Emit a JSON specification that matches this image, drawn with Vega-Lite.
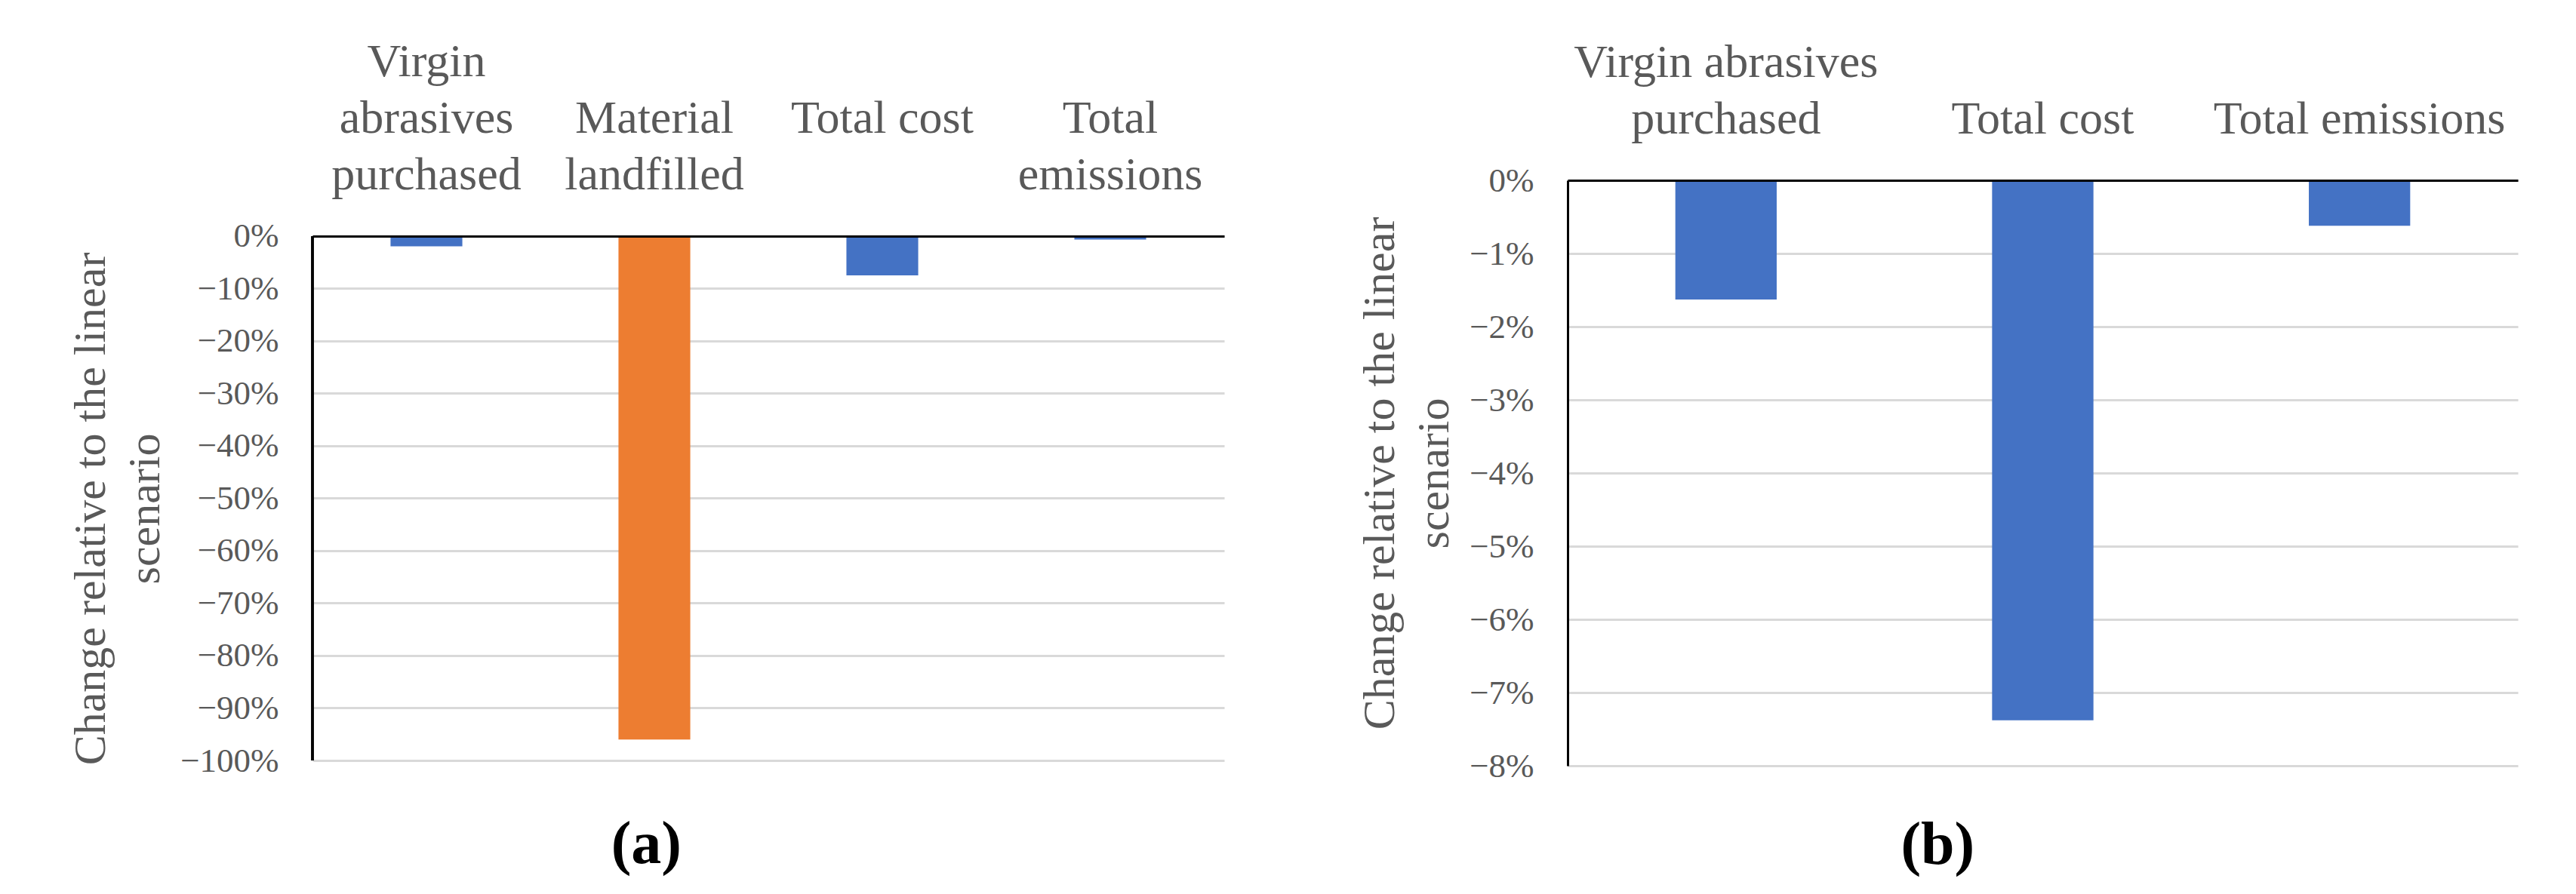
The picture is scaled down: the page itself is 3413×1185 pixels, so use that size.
{
  "$schema": "https://vega.github.io/schema/vega-lite/v6.json",
  "background": "white",
  "padding": {"left": 90, "top": 50, "right": 5, "bottom": 5},
  "datasets": {
    "a": [
      {"category": "Virgin abrasives purchased", "value": -0.0195},
      {"category": "Material landfilled", "value": -0.96},
      {"category": "Total cost", "value": -0.075},
      {"category": "Total emissions", "value": -0.0065}
    ],
    "b": [
      {"category": "Virgin abrasives purchased", "value": -0.0163},
      {"category": "Total cost", "value": -0.0738},
      {"category": "Total emissions", "value": -0.0062}
    ]
  },
  "spacing": 176,
  "hconcat": [
    {
      "width": 1208,
      "height": 769,
      "data": {"name": "a"},
      "title": {"text": "(a)", "orient": "bottom", "anchor": "middle", "frame": "bounds", "fontSize": 80, "fontWeight": "bold", "font": "Liberation Serif", "color": "black", "offset": 50, "baseline": "top"},
      "layer": [
        {
          "mark": {"type": "bar"},
          "encoding": {
            "x": {
              "field": "category", "type": "nominal", "sort": null,
              "scale": {"paddingInner": 0.685, "paddingOuter": 0.3425},
              "axis": {
                "orient": "top", "title": null, "labelAngle": 0, "labelLimit": 0, "offset": -74,
                "labelExpr": "datum.value == 'Virgin abrasives purchased' ? ['Virgin','abrasives','purchased'] : datum.value == 'Material landfilled' ? ['','Material','landfilled'] : datum.value == 'Total emissions' ? ['','Total','emissions'] : ['','',datum.value]",
                "labelFontSize": 62, "labelLineHeight": 75, "labelPadding": 200, "labelColor": "#595959",
                "domainColor": "black", "domainWidth": 3, "ticks": false, "grid": false, "zindex": 1
              }
            },
            "y": {
              "field": "value", "type": "quantitative",
              "scale": {"domain": [-1, 0.10647], "nice": false, "zero": true},
              "axis": {
                "format": ".0%", "values": [0, -0.1, -0.2, -0.3, -0.4, -0.5, -0.6, -0.7, -0.8, -0.9, -1],
                "title": ["Change relative to the linear", "scenario"],
                "titleFontSize": 60, "titleLineHeight": 72, "titleColor": "#595959", "titleFontWeight": "normal", "titlePadding": 15, "titleY": 435,
                "labelFontSize": 45, "labelPadding": 45, "labelColor": "#595959",
                "domain": false, "ticks": false,
                "gridColor": "#D9D9D9", "gridWidth": 3, "zindex": 0
              }
            },
            "color": {"condition": {"test": "datum.category === 'Material landfilled'", "value": "#ED7D31"}, "value": "#4472C4"}
          }
        },
        {
          "mark": {"type": "rule", "color": "black", "strokeWidth": 3},
          "encoding": {
            "x": {"datum": 0, "type": "quantitative", "scale": {"domain": [0, 1], "nice": false, "zero": false}, "axis": null},
            "y": {"datum": 0, "type": "quantitative"},
            "y2": {"datum": -1}
          }
        }
      ],
      "resolve": {"scale": {"x": "independent"}}
    },
    {
      "width": 1259,
      "height": 776,
      "data": {"name": "b"},
      "title": {"text": "(b)", "orient": "bottom", "anchor": "middle", "frame": "bounds", "fontSize": 80, "fontWeight": "bold", "font": "Liberation Serif", "color": "black", "offset": 44, "baseline": "top"},
      "mark": {"type": "bar", "color": "#4472C4"},
      "encoding": {
        "x": {
          "field": "category", "type": "nominal", "sort": null,
          "scale": {"paddingInner": 0.68, "paddingOuter": 0.34},
          "axis": {
            "orient": "top", "title": null, "labelAngle": 0, "labelLimit": 0,
            "labelExpr": "datum.value == 'Virgin abrasives purchased' ? ['Virgin abrasives','purchased'] : ['', datum.value]",
            "labelFontSize": 62, "labelLineHeight": 75, "labelPadding": 125, "labelColor": "#595959",
            "domainColor": "black", "domainWidth": 3, "ticks": false, "grid": false, "zindex": 1
          }
        },
        "y": {
          "field": "value", "type": "quantitative",
          "scale": {"domain": [-0.08, 0], "nice": false},
          "axis": {
            "format": ".0%", "values": [0, -0.01, -0.02, -0.03, -0.04, -0.05, -0.06, -0.07, -0.08],
            "title": ["Change relative to the linear", "scenario"],
            "titleFontSize": 60, "titleLineHeight": 72, "titleColor": "#595959", "titleFontWeight": "normal", "titlePadding": 15,
            "labelFontSize": 45, "labelPadding": 45, "labelColor": "#595959",
            "domainColor": "black", "domainWidth": 3, "ticks": false,
            "gridColor": "#D9D9D9", "gridWidth": 3, "zindex": 0
          }
        }
      }
    }
  ],
  "config": {
    "view": {"stroke": null},
    "font": "Liberation Serif"
  }
}
